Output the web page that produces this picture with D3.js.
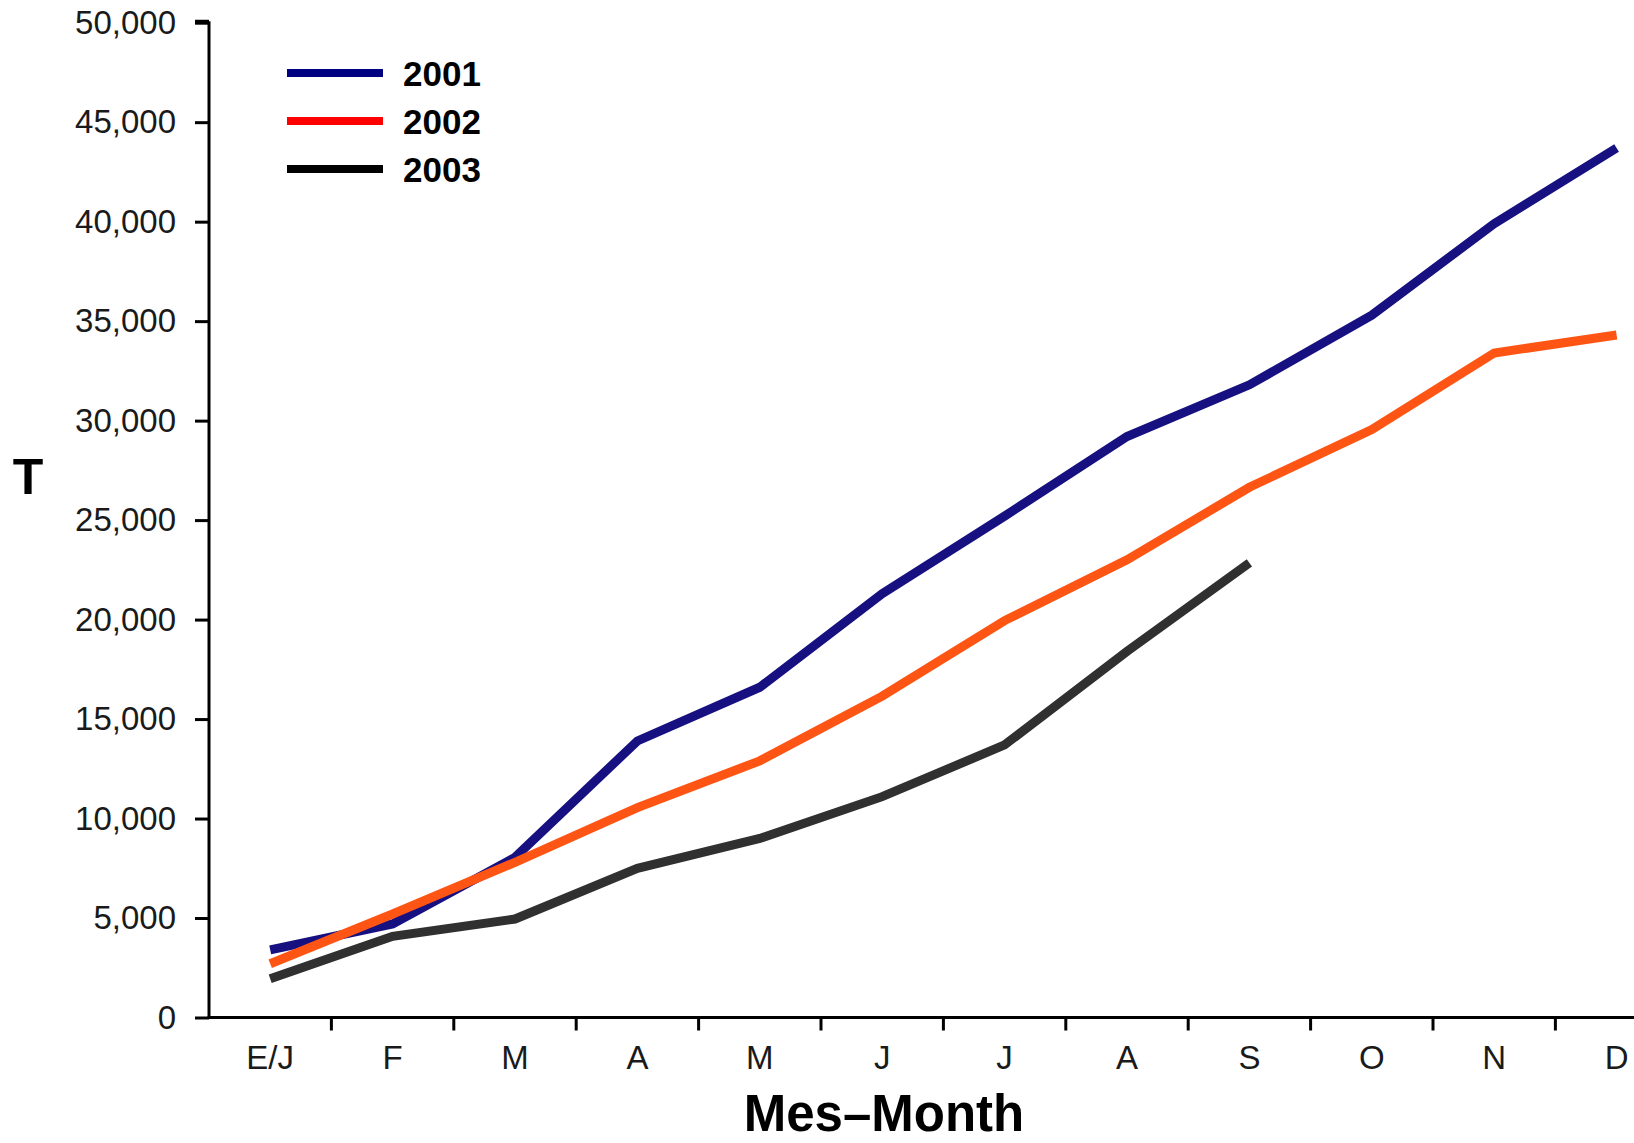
<!DOCTYPE html>
<html><head><meta charset="utf-8">
<script src="https://cdn.jsdelivr.net/npm/d3@7"></script>
<style>body{margin:0;background:#fff;}svg{display:block;}</style>
</head><body>
<svg id="c" width="1634" height="1143"></svg>
<script>
const months = ["E/J","F","M","A","M","J","J","A","S","O","N","D"];
const yTicks = [0,5000,10000,15000,20000,25000,30000,35000,40000,45000,50000];
const years = ["2001","2002","2003"];
const v2001 = [3400,4700,8050,13900,16600,21300,25200,29200,31800,35300,39900,43700];
const v2002 = [2700,5200,7800,10550,12900,16150,19950,23000,26650,29550,33400,34300];
const v2003 = [1950,4080,4950,7500,9000,11100,13700,18400,22850];
const colors = ["#161081","#ff5514","#303030"];
const legendColors = ["#000080","#ff0000","#000000"];

const svg = d3.select("#c");
const x0 = 209, band = 122.4;
const x = d3.scaleBand().domain(d3.range(months.length)).range([x0, x0 + band*months.length]).paddingInner(0).paddingOuter(0);
const y = d3.scaleLinear().domain([0,50000]).range([1017.5, 22.7]);

// y axis
const ya = svg.append("g").attr("transform",`translate(${x0},0)`)
  .call(d3.axisLeft(y).tickValues(yTicks).tickFormat(d3.format(",")).tickSize(14).tickPadding(19));
ya.select(".domain").attr("stroke","#000").attr("stroke-width",3).attr("d",`M0,${y(50000)-1.5}H-14M0,${y(50000)-1.5}V${y(0)}`);
ya.selectAll(".tick line").attr("stroke","#000").attr("stroke-width",3);
ya.selectAll(".tick text").attr("font-family","Liberation Sans, Arial, sans-serif").attr("font-size",33).attr("fill","#1a1a1a");

// x axis
const xa = svg.append("g").attr("transform",`translate(0,${y(0)})`)
  .call(d3.axisBottom(x).tickFormat(i=>months[i]).tickSize(0).tickPadding(28));
xa.select(".domain").attr("stroke","#000").attr("stroke-width",3).attr("d",`M${x0-1.5},0H${x0+band*12}`);
xa.selectAll(".tick text").attr("font-family","Liberation Sans, Arial, sans-serif").attr("font-size",33).attr("fill","#1a1a1a");
xa.selectAll("line.bt").data(d3.range(1,months.length)).enter().append("line").attr("class","bt")
  .attr("x1",i=>x(i)).attr("x2",i=>x(i)).attr("y1",0).attr("y2",13)
  .attr("stroke","#000").attr("stroke-width",3);

// lines
const line = d3.line().x((d,i)=>x(i)+x.bandwidth()/2).y(d=>y(d)).curve(d3.curveLinear);
[v2001,v2002,v2003].forEach((s,k)=>{
  svg.append("path").datum(s).attr("d",line).attr("fill","none")
    .attr("stroke",colors[k]).attr("stroke-width",9).attr("stroke-linejoin","miter").attr("stroke-linecap","butt");
});

// legend
years.forEach((yr,k)=>{
  const ly = 73 + k*48;
  svg.append("line").attr("x1",287).attr("x2",383).attr("y1",ly).attr("y2",ly)
    .attr("stroke",legendColors[k]).attr("stroke-width",8);
  svg.append("text").attr("x",403).attr("y",ly+13).text(yr)
    .attr("font-family","Liberation Sans, Arial, sans-serif").attr("font-weight","bold").attr("font-size",35).attr("fill","#000");
});

// titles
svg.append("text").attr("x",884).attr("y",1131).attr("text-anchor","middle").text("Mes\u2013Month")
  .attr("font-family","Liberation Sans, Arial, sans-serif").attr("font-weight","bold").attr("font-size",51).attr("fill","#000");
svg.append("text").attr("x",28).attr("y",494).attr("text-anchor","middle").text("T")
  .attr("font-family","Liberation Sans, Arial, sans-serif").attr("font-weight","bold").attr("font-size",50).attr("fill","#000");
</script>
</body></html>
